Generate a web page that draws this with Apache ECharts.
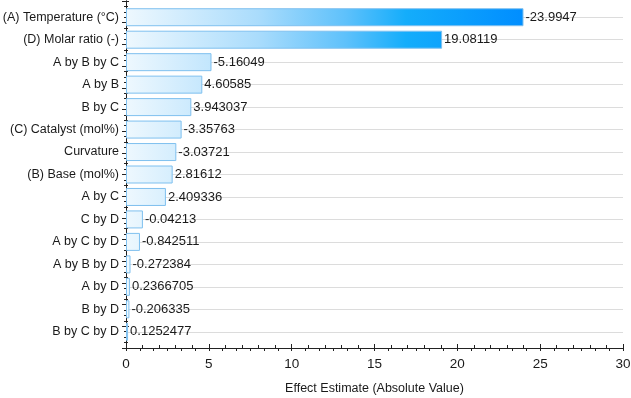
<!DOCTYPE html>
<html>
<head>
  <meta charset="utf-8">
  <script src="https://cdn.jsdelivr.net/npm/echarts@6/dist/echarts.min.js"></script>
  <style>
    html, body { margin: 0; padding: 0; background: #fff; }
  </style>
</head>
<body>
  <div id="id_chart" style="width: 631px; height: 398px;"></div>

  <script type="text/javascript">
    // factors, top to bottom
    var categories = ['(A) Temperature (°C)', '(D) Molar ratio (-)', 'A by B by C', 'A by B', 'B by C',
      '(C) Catalyst (mol%)', 'Curvature', '(B) Base (mol%)', 'A by C', 'C by D',
      'A by C by D', 'A by B by D', 'A by D', 'B by D', 'B by C by D'];
    // bar length (absolute effect)
    var effects = [23.9947, 19.08119, 5.16049, 4.60585, 3.943037, 3.35763, 3.03721, 2.81612,
      2.409336, 1.02, 0.842511, 0.272384, 0.2366705, 0.206335, 0.1252477];
    // printed estimates next to the bars
    var estimateLabels = ['-23.9947', '19.08119', '-5.16049', '4.60585', '3.943037', '-3.35763',
      '-3.03721', '2.81612', '2.409336', '-0.04213', '-0.842511', '-0.272384', '0.2366705',
      '-0.206335', '0.1252477'];
    var xTicks = [0, 5, 10, 15, 20, 25, 30];

    var font = "'Liberation Sans', Arial, sans-serif";
    var W = 631, H = 398;
    var gLeft = 126, gRight = 8;
    // frame grid and bar grid (bars are inset a little from the frame)
    var frameTop = 1, frameBottom = 50;
    var barTop = 6, barBottom = 55;
    var rowH = (H - barTop - barBottom) / categories.length;

    var myChart = echarts.init(document.getElementById('id_chart'));
    var axisCol = '#222';

    var barFill = {
      type: 'linear', x: gLeft, y: 0, x2: gLeft + 400, y2: 0, global: true,
      colorStops: [
        { offset: 0, color: '#eef8fe' },
        { offset: 0.33, color: '#aadcfc' },
        { offset: 0.55, color: '#5ec1fb' },
        { offset: 0.7, color: '#14adfb' },
        { offset: 1, color: '#008dff' }
      ]
    };

    var option = {
      animation: false,
      textStyle: { fontFamily: font },
      grid: [
        { left: gLeft, right: gRight, top: frameTop, bottom: frameBottom, outerBoundsMode: 'none', containLabel: false },
        { left: gLeft, right: gRight, top: barTop, bottom: barBottom, outerBoundsMode: 'none', containLabel: false },
        { left: gLeft, right: gRight, top: barTop + rowH / 2, bottom: barBottom + rowH / 2, outerBoundsMode: 'none', containLabel: false }
      ],
      xAxis: [
        {
          gridIndex: 0, type: 'value', position: 'bottom',
          min: xTicks[0], max: xTicks[xTicks.length - 1], interval: 5,
          name: 'Effect Estimate (Absolute Value)', nameLocation: 'middle', nameGap: 34,
          nameTextStyle: { fontSize: 12.5, color: '#1a1a1a', fontFamily: font },
          axisLine: { lineStyle: { color: axisCol, width: 1 } },
          axisTick: { inside: true, length: 4, lineStyle: { color: axisCol } },
          minorTick: { show: true, splitNumber: 5, length: 3, lineStyle: { color: axisCol } },
          axisLabel: { fontSize: 13.5, color: '#1a1a1a', margin: 9, fontFamily: font },
          splitLine: { show: false }
        },
        {
          gridIndex: 0, type: 'value', position: 'top', min: 0, max: 36, interval: 6,
          axisLine: { lineStyle: { color: axisCol, width: 1 } },
          axisTick: { inside: true, length: 3, lineStyle: { color: axisCol } },
          minorTick: { show: true, splitNumber: 6, length: 3, lineStyle: { color: axisCol } },
          axisLabel: { show: false },
          splitLine: { show: false }
        },
        { gridIndex: 1, type: 'value', min: 0, max: 30, show: false },
        { gridIndex: 2, type: 'value', min: 0, max: 30, show: false }
      ],
      yAxis: [
        {
          gridIndex: 0, type: 'value', position: 'left', min: 0, max: 64, interval: 4,
          axisLine: { show: true, lineStyle: { color: axisCol, width: 1 } },
          axisTick: { show: true, inside: true, length: 3, lineStyle: { color: axisCol } },
          minorTick: { show: true, splitNumber: 4, length: 2, lineStyle: { color: axisCol } },
          axisLabel: { show: false },
          splitLine: { show: false }
        },
        {
          gridIndex: 0, type: 'value', position: 'right', min: 0, max: 64, interval: 4,
          axisLine: { show: true, lineStyle: { color: axisCol, width: 1 } },
          axisTick: { show: true, inside: true, length: 4, lineStyle: { color: axisCol } },
          minorTick: { show: true, splitNumber: 4, length: 2, lineStyle: { color: axisCol } },
          axisLabel: { show: false },
          splitLine: { show: false }
        },
        {
          gridIndex: 1, type: 'category', data: categories, inverse: true,
          axisLine: { show: false }, axisTick: { show: false },
          axisLabel: { fontSize: 12.5, color: '#1a1a1a', margin: 7, fontFamily: font },
          splitLine: { show: false }
        },
        {
          // horizontal guide lines through the bar centres
          gridIndex: 2, type: 'category', data: categories, inverse: true, boundaryGap: false,
          axisLine: { show: false }, axisTick: { show: false }, axisLabel: { show: false },
          splitLine: { show: true, lineStyle: { color: '#dcdcdc', width: 1 } }
        }
      ],
      series: [{
        name: 'Effect',
        type: 'bar',
        xAxisIndex: 2,
        yAxisIndex: 2,
        barWidth: 18,
        z: 3,
        itemStyle: { color: barFill, borderColor: '#7fc0ef', borderWidth: 1 },
        label: {
          show: true,
          position: 'right',
          distance: 2,
          fontSize: 13,
          color: '#1a1a1a',
          fontFamily: font,
          formatter: function(p) { return estimateLabels[p.dataIndex]; }
        },
        data: effects
      }]
    };
    myChart.setOption(option);
  </script>
</body>
</html>
